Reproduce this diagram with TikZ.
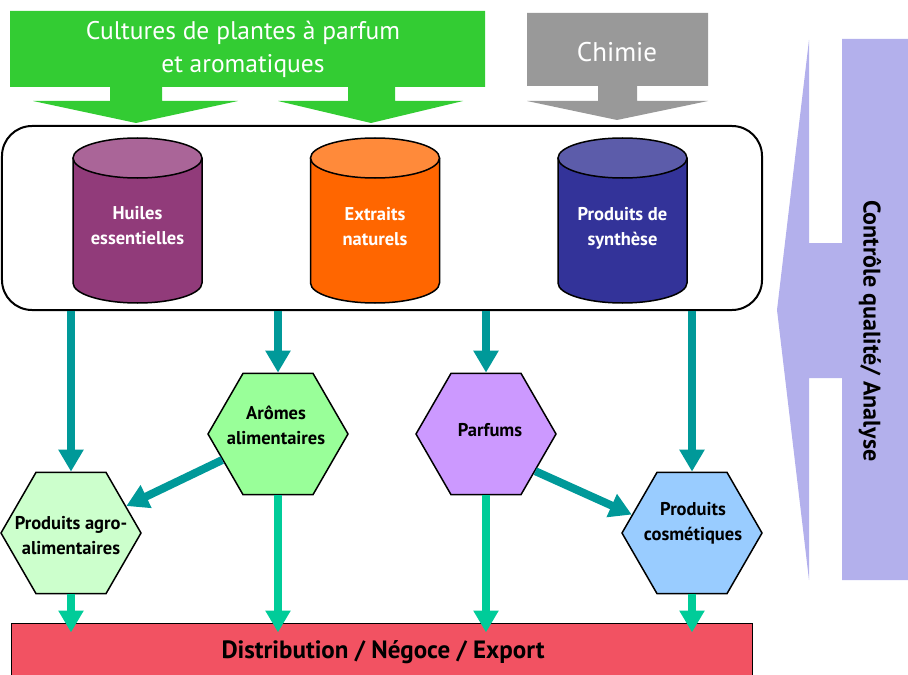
\documentclass[tikz,border=0pt]{standalone}
\usepackage{fontspec}
\setmainfont{PT Sans}
\usetikzlibrary{arrows.meta,shapes.geometric,calc}
\definecolor{grn}{HTML}{33CC33}
\definecolor{gry}{HTML}{999999}
\definecolor{lav}{HTML}{B3B0EC}
\definecolor{purB}{HTML}{913B7A}
\definecolor{purT}{HTML}{AA6598}
\definecolor{orB}{HTML}{FF6600}
\definecolor{orT}{HTML}{FF8A3A}
\definecolor{navB}{HTML}{333399}
\definecolor{navT}{HTML}{5C5CAA}
\definecolor{hAgro}{HTML}{CCFFCC}
\definecolor{hArom}{HTML}{99FF99}
\definecolor{hParf}{HTML}{CC99FF}
\definecolor{hCosm}{HTML}{99CCFF}
\definecolor{redD}{HTML}{F25262}
\definecolor{tealA}{HTML}{009999}
\definecolor{tealB}{HTML}{00CC99}
\newcommand{\drawcyl}[3]{%
  \fill[#2] (#1-64.5,158) -- (#1-64.5,283) arc[start angle=180,end angle=0,x radius=64.5,y radius=20] -- (#1+64.5,158) arc[start angle=0,end angle=180,x radius=64.5,y radius=20] -- cycle;
  \draw[line width=1.5bp] (#1-64.5,158) -- (#1-64.5,283) arc[start angle=180,end angle=0,x radius=64.5,y radius=20] -- (#1+64.5,158);
  \filldraw[fill=#3,line width=1.5bp] (#1,158) ellipse[x radius=64.5,y radius=20];
}
\begin{document}
\begin{tikzpicture}[x=1bp,y=-1bp,
  hexa/.style={regular polygon,regular polygon sides=6,minimum size=140bp,inner sep=0pt,draw,line width=1.5bp},
  hextext/.style={align=center,font=\fontsize{18.5bp}{25bp}\selectfont\bfseries,text=black},
  cyltext/.style={align=center,font=\fontsize{18.5bp}{25bp}\selectfont\bfseries,text=white},
  tarr/.style={draw=tealA,line width=8bp,-{Triangle[width=24bp,length=22bp]}},
  garr/.style={draw=tealB,line width=8bp,-{Triangle[width=24bp,length=22bp]}}]
\useasboundingbox (0,0) rectangle (908,675);
% green banner with two arrows
\fill[grn] (10,11) -- (485,11) -- (485,87) -- (395,87) -- (395,101) -- (463,101) -- (371,123) -- (278,101) -- (348,101) -- (348,87) -- (162,87) -- (162,101) -- (238,101) -- (136,123) -- (33,101) -- (110,101) -- (110,87) -- (10,87) -- cycle;
\node[align=center,text=white,font=\fontsize{25.5bp}{33bp}\selectfont] (cult) at (243,49) {Cultures de plantes à parfum\\et aromatiques};
% gray Chimie
\fill[gry] (527,13) -- (708,13) -- (708,86) -- (637,86) -- (637,101) -- (708,101) -- (617,120) -- (527,101) -- (598,101) -- (598,86) -- (527,86) -- cycle;
\node[text=white,font=\fontsize{27bp}{30bp}\selectfont] (chim) at (617,52) {Chimie};
% lavender control arrow
\fill[lav] (842,39) -- (908,39) -- (908,580) -- (842,580) -- (842,378) -- (809,378) -- (809,580) -- (777,310) -- (809,40) -- (809,243) -- (842,243) -- cycle;
\node[rotate=-90,font=\fontsize{24bp}{28bp}\selectfont\bfseries] (ctrl) at (870,331) {Contrôle qualité/ Analyse};
% container
\node[draw,line width=2bp,rounded corners=30bp,minimum width=760bp,minimum height=184bp,inner sep=0pt] (cont) at (382,218) {};
% cylinders
\drawcyl{137.5}{purB}{purT}
\node[cyltext] (huil) at (137.5,226) {Huiles\\essentielles};
\drawcyl{375}{orB}{orT}
\node[cyltext] (extr) at (375,227) {Extraits\\naturels};
\drawcyl{622.5}{navB}{navT}
\node[cyltext] (synt) at (622.5,228) {Produits de\\synthèse};
% distribution box
\node[draw,line width=1bp,fill=redD,minimum width=740bp,minimum height=56bp,inner sep=0pt] (dist) at (382,651) {};
\node[font=\fontsize{25bp}{28bp}\selectfont\bfseries] (distT) at (383,652) {Distribution / Négoce / Export};
% hexagons
\node[hexa,fill=hAgro] (agro) at (71,533) {};
\node[hextext] (agroT) at (71,536) {Produits agro-\\alimentaires};
\node[hexa,fill=hArom] (arom) at (278,434) {};
\node[hextext] (aromT) at (276,425) {Arômes\\alimentaires};
\node[hexa,fill=hParf] (parf) at (486,434) {};
\node[hextext] (parfT) at (490,430) {Parfums};
\node[hexa,fill=hCosm] (cosm) at (692,533) {};
\node[hextext] (cosmT) at (693,523) {Produits\\cosmétiques};
% teal arrows from container
\draw[tarr] (agro.north |- cont.south) -- (agro.north);
\draw[tarr] (arom.north |- cont.south) -- (arom.north);
\draw[tarr] (parf.north |- cont.south) -- (parf.north);
\draw[tarr] (cosm.north |- cont.south) -- (cosm.north);
\draw[tarr] (arom.205) -- (agro.26);
\draw[tarr] (parf.323) -- (cosm.163);
% green arrows to distribution
\draw[garr] (agro.south) -- ($(agro.south |- dist.north)+(0,10)$);
\draw[garr] (arom.south) -- ($(arom.south |- dist.north)+(0,10)$);
\draw[garr] (parf.south) -- ($(parf.south |- dist.north)+(0,10)$);
\draw[garr] (cosm.south) -- ($(cosm.south |- dist.north)+(0,10)$);
\end{tikzpicture}
\end{document}
